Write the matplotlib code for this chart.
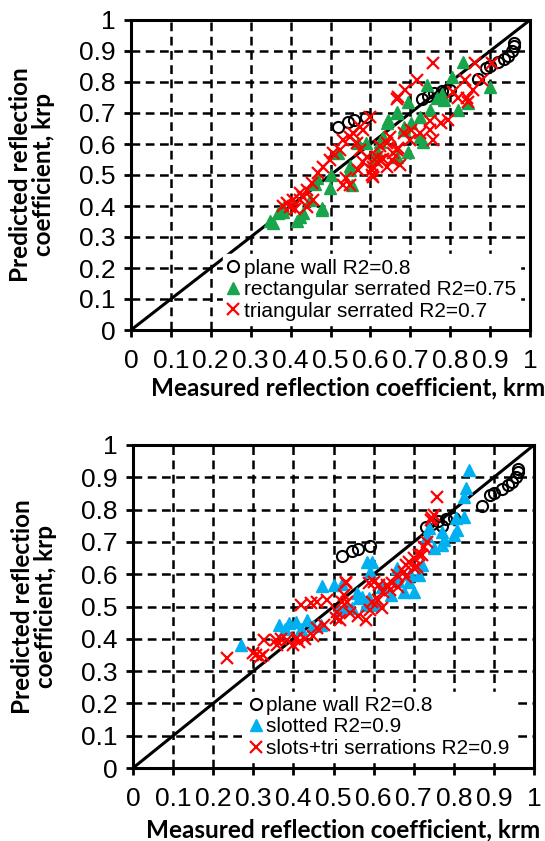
import matplotlib
matplotlib.use("Agg")
import matplotlib.pyplot as plt

plt.rcParams['font.family'] = ['Liberation Sans', 'DejaVu Sans']

# plane wall, same in both panels
plane_pts = [(0.52, 0.655), (0.545, 0.672), (0.56, 0.677), (0.59, 0.688),
             (0.73, 0.745), (0.745, 0.755), (0.76, 0.765), (0.77, 0.748),
             (0.78, 0.77), (0.80, 0.775), (0.87, 0.81), (0.89, 0.845),
             (0.90, 0.85), (0.92, 0.865), (0.935, 0.875), (0.945, 0.885),
             (0.955, 0.90), (0.96, 0.915), (0.96, 0.925)]

# top panel
rect_pts = [(0.348, 0.35), (0.369, 0.377), (0.382, 0.393), (0.415, 0.35),
            (0.432, 0.377), (0.478, 0.387), (0.356, 0.345), (0.377, 0.387),
            (0.38, 0.38), (0.424, 0.365), (0.449, 0.419), (0.465, 0.49),
            (0.478, 0.393), (0.499, 0.458), (0.519, 0.57), (0.549, 0.516),
            (0.553, 0.468), (0.57, 0.602), (0.59, 0.602), (0.617, 0.578),
            (0.624, 0.608), (0.632, 0.624), (0.641, 0.667), (0.645, 0.677),
            (0.666, 0.704), (0.666, 0.559), (0.683, 0.656), (0.683, 0.645),
            (0.695, 0.737), (0.695, 0.575), (0.703, 0.667), (0.724, 0.688),
            (0.724, 0.624), (0.733, 0.608), (0.741, 0.79), (0.749, 0.71),
            (0.766, 0.747), (0.78, 0.76), (0.785, 0.741), (0.804, 0.817),
            (0.82, 0.71), (0.832, 0.866), (0.845, 0.732), (0.90, 0.785),
            (0.666, 0.699), (0.55, 0.53), (0.50, 0.50), (0.46, 0.47),
            (0.61, 0.55)]

tri_pts = [(0.407, 0.419), (0.44, 0.452), (0.482, 0.527), (0.507, 0.57),
           (0.549, 0.624), (0.582, 0.645), (0.599, 0.688), (0.549, 0.468),
           (0.582, 0.543), (0.603, 0.50), (0.624, 0.548), (0.657, 0.57),
           (0.674, 0.532), (0.641, 0.602), (0.424, 0.441), (0.453, 0.473),
           (0.469, 0.505), (0.499, 0.548), (0.524, 0.581), (0.566, 0.602),
           (0.616, 0.543), (0.641, 0.527), (0.653, 0.548), (0.666, 0.581),
           (0.532, 0.468), (0.54, 0.49), (0.57, 0.516), (0.603, 0.516),
           (0.607, 0.495), (0.424, 0.42), (0.398, 0.398), (0.44, 0.398),
           (0.457, 0.419), (0.757, 0.861), (0.862, 0.861), (0.904, 0.86),
           (0.716, 0.806), (0.837, 0.806), (0.879, 0.806), (0.687, 0.774),
           (0.669, 0.753), (0.667, 0.745), (0.807, 0.769), (0.82, 0.748),
           (0.841, 0.747), (0.858, 0.774), (0.845, 0.737), (0.795, 0.677),
           (0.778, 0.667), (0.749, 0.673), (0.703, 0.645), (0.683, 0.634),
           (0.724, 0.634), (0.749, 0.645), (0.757, 0.613), (0.649, 0.624),
           (0.624, 0.592), (0.669, 0.587), (0.70, 0.613), (0.574, 0.656),
           (0.557, 0.634), (0.532, 0.613), (0.591, 0.559), (0.616, 0.559),
           (0.632, 0.553), (0.574, 0.581), (0.607, 0.527), (0.38, 0.40),
           (0.39, 0.41), (0.41, 0.39), (0.43, 0.43)]

# bottom panel
slot_pts = [(0.838, 0.923), (0.83, 0.866), (0.825, 0.84), (0.825, 0.778),
            (0.805, 0.774), (0.808, 0.737), (0.80, 0.72), (0.771, 0.732),
            (0.771, 0.69), (0.776, 0.705), (0.738, 0.743), (0.734, 0.718),
            (0.597, 0.639), (0.592, 0.608), (0.659, 0.618), (0.713, 0.598),
            (0.688, 0.577), (0.70, 0.546), (0.676, 0.546), (0.643, 0.536),
            (0.605, 0.515), (0.564, 0.525), (0.58, 0.505), (0.547, 0.494),
            (0.269, 0.381), (0.364, 0.443), (0.389, 0.448), (0.406, 0.453),
            (0.435, 0.458), (0.468, 0.443), (0.45, 0.44), (0.472, 0.562),
            (0.501, 0.567), (0.52, 0.57), (0.584, 0.639), (0.559, 0.541),
            (0.57, 0.53), (0.589, 0.525), (0.599, 0.505), (0.62, 0.56),
            (0.66, 0.58), (0.69, 0.60), (0.72, 0.63), (0.75, 0.68),
            (0.51, 0.49), (0.53, 0.50), (0.42, 0.43), (0.38, 0.43)]

slottri_pts = [(0.759, 0.84), (0.75, 0.783), (0.742, 0.768), (0.745, 0.775),
               (0.734, 0.70), (0.726, 0.685), (0.713, 0.659), (0.70, 0.649),
               (0.688, 0.638), (0.68, 0.628), (0.709, 0.623), (0.676, 0.608),
               (0.659, 0.598), (0.647, 0.572), (0.634, 0.567), (0.613, 0.567),
               (0.601, 0.577), (0.588, 0.572), (0.53, 0.572), (0.623, 0.546),
               (0.597, 0.515), (0.622, 0.494), (0.52, 0.515), (0.235, 0.34),
               (0.306, 0.35), (0.317, 0.345), (0.30, 0.355), (0.325, 0.35),
               (0.327, 0.396), (0.356, 0.396), (0.37, 0.40), (0.385, 0.396),
               (0.41, 0.402), (0.415, 0.39), (0.418, 0.505), (0.443, 0.51),
               (0.46, 0.515), (0.485, 0.52), (0.476, 0.443), (0.46, 0.433),
               (0.53, 0.577), (0.526, 0.536), (0.534, 0.515), (0.505, 0.463),
               (0.508, 0.484), (0.515, 0.458), (0.58, 0.458), (0.56, 0.47),
               (0.54, 0.48), (0.59, 0.49), (0.61, 0.52), (0.64, 0.55),
               (0.66, 0.56), (0.68, 0.59), (0.70, 0.62), (0.72, 0.66),
               (0.36, 0.38), (0.40, 0.38), (0.43, 0.40), (0.45, 0.41)]

ticks = [0, 0.1, 0.2, 0.3, 0.4, 0.5, 0.6, 0.7, 0.8, 0.9, 1]
tick_labels = ["0", "0.1", "0.2", "0.3", "0.4", "0.5", "0.6", "0.7", "0.8", "0.9", "1"]

top_labels = ["plane wall R2=0.8", "rectangular serrated R2=0.75", "triangular serrated R2=0.7"]
bot_labels = ["plane wall R2=0.8", "slotted R2=0.9", "slots+tri serrations R2=0.9"]

W, H = 545, 841
fig = plt.figure(figsize=(W / 100, H / 100), dpi=100)
ax1 = fig.add_axes([131 / W, 1 - 330 / H, 399 / W, 310 / H])
ax2 = fig.add_axes([133 / W, 1 - 768 / H, 401 / W, 323 / H])


def unzip(pts):
    return [p[0] for p in pts], [p[1] for p in pts]


def setup(ax):
    ax.set_xlim(0, 1)
    ax.set_ylim(0, 1)
    ax.set_xticks(ticks)
    ax.set_yticks(ticks)
    ax.set_xticklabels(tick_labels)
    ax.set_yticklabels(tick_labels)
    ax.tick_params(direction='out', length=5, width=2, labelsize=19, pad=6)
    ax.tick_params(axis='x', pad=9)
    ax.grid(True, color='black', linestyle=(0, (3.5, 2.2)), linewidth=1.8)
    ax.set_axisbelow(True)
    for s in ax.spines.values():
        s.set_linewidth(2.2)
    ax.plot([0, 1], [0, 1], color='black', lw=2.2, zorder=2)
    ax.set_xlabel("Measured reflection coefficient, krm", fontsize=17.5,
                  fontweight='bold', family='Lato')
    ax.set_ylabel("Predicted reflection\ncoefficient, krp", fontsize=17.5,
                  fontweight='bold', family='Lato', linespacing=1.0)
    ax.yaxis.set_label_coords(-0.19, 0.5)


mk = dict(linestyle='none', zorder=3)

setup(ax1)
x, y = unzip(plane_pts)
ax1.plot(x, y, marker='o', markersize=8, mfc='none', mec='black', mew=1.5, label=top_labels[0], **mk)
x, y = unzip(rect_pts)
ax1.plot(x, y, marker='^', markersize=9, color='#18a54b', label=top_labels[1], **mk)
x, y = unzip(tri_pts)
ax1.plot(x, y, marker='x', markersize=8, mew=1.6, color='#ff0000', label=top_labels[2], **mk)
ax1.xaxis.set_label_coords(0.545, -0.15)
ax1.legend(loc='lower right', bbox_to_anchor=(0.98, 0.01), frameon=True, framealpha=1,
           edgecolor='white', fancybox=False, fontsize=15, handlelength=0.6,
           handletextpad=0.2, borderpad=0.2, labelspacing=0.12, borderaxespad=0.1)

setup(ax2)
x, y = unzip(plane_pts)
ax2.plot(x, y, marker='o', markersize=8, mfc='none', mec='black', mew=1.5, label=bot_labels[0], **mk)
x, y = unzip(slot_pts)
ax2.plot(x, y, marker='^', markersize=9, color='#00b0f0', label=bot_labels[1], **mk)
x, y = unzip(slottri_pts)
ax2.plot(x, y, marker='x', markersize=8, mew=1.6, color='#ff0000', label=bot_labels[2], **mk)
ax2.xaxis.set_label_coords(0.525, -0.155)
ax2.legend(loc='lower right', bbox_to_anchor=(0.955, 0.012), frameon=True, framealpha=1,
           edgecolor='white', fancybox=False, fontsize=15, handlelength=0.6,
           handletextpad=0.2, borderpad=0.2, labelspacing=0.12, borderaxespad=0.1)

fig.savefig("out.png", dpi=100)
